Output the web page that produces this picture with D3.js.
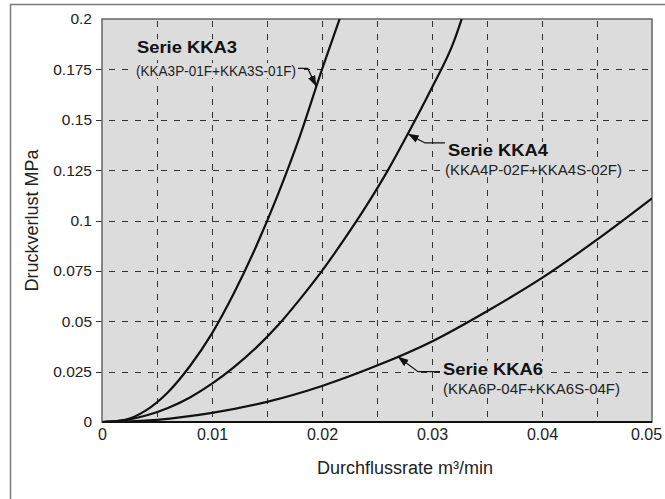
<!DOCTYPE html>
<html><head><meta charset="utf-8">
<script src="https://cdn.jsdelivr.net/npm/d3@7"></script>
<style>
body{margin:0;background:#fff;}
svg{display:block;font-family:"Liberation Sans",Arial,Helvetica,sans-serif;}
</style>
</head><body>
<svg id="chart" width="665" height="499"></svg>
<script>
// ---- data ----
const kka3Q = [0, 0.002, 0.004, 0.006, 0.008, 0.010, 0.012, 0.014, 0.016, 0.018, 0.020, 0.0216];
const kka3P = [0, 0.001, 0.0058, 0.0148, 0.0278, 0.0440, 0.064, 0.087, 0.113, 0.142, 0.175, 0.2];
const kka4Q = [0, 0.002, 0.004, 0.006, 0.008, 0.010, 0.012, 0.014, 0.016, 0.018, 0.020, 0.022, 0.024, 0.026, 0.028, 0.030, 0.032, 0.0327];
const kka4P = [0, 0.0008, 0.0032, 0.0070, 0.0122, 0.0190, 0.0272, 0.0368, 0.048, 0.061, 0.075, 0.0905, 0.107, 0.125, 0.145, 0.166, 0.189, 0.2];
const kka6Q = [0, 0.002, 0.005, 0.010, 0.015, 0.020, 0.025, 0.030, 0.035, 0.040, 0.045, 0.050];
const kka6P = [0, 0.0002, 0.0011, 0.0045, 0.010, 0.0179, 0.028, 0.040, 0.055, 0.0715, 0.0905, 0.111];

const xTickValues = [0, 0.01, 0.02, 0.03, 0.04, 0.05];
const xTickLabels = ["0", "0.01", "0.02", "0.03", "0.04", "0.05"];
const yTickValues = [0, 0.025, 0.05, 0.075, 0.1, 0.125, 0.15, 0.175, 0.2];
const yTickLabels = ["0", "0.025", "0.05", "0.075", "0.1", "0.125", "0.15", "0.175", "0.2"];
const xGridValues = [0.005, 0.01, 0.015, 0.02, 0.025, 0.03, 0.035, 0.04, 0.045];
const yGridValues = [0.025, 0.05, 0.075, 0.1, 0.125, 0.15, 0.175];

const seriesNames = ["Serie KKA3", "Serie KKA4", "Serie KKA6"];
const partNames = ["(KKA3P-01F+KKA3S-01F)", "(KKA4P-02F+KKA4S-02F)", "(KKA6P-04F+KKA6S-04F)"];
const xTitle = "Durchflussrate m³/min";
const yTitle = "Druckverlust MPa";

// ---- layout ----
const svg = d3.select("#chart");
const W = 665, H = 499;
const x = d3.scaleLinear().domain([0, 0.05]).range([102, 652]);
const y = d3.scaleLinear().domain([0, 0.2]).range([422, 19]);
const BG = "#dcdcdc";

// outer frame (left + top lines)
svg.append("path").attr("d", `M10.5,${H} V4.5 H${W}`).attr("fill", "none").attr("stroke", "#7a7a7a").attr("stroke-width", 1.5);

// plot background
svg.append("rect").attr("x", x(0)).attr("y", y(0.2)).attr("width", x(0.05) - x(0)).attr("height", y(0) - y(0.2))
  .attr("fill", BG);

const defs = svg.append("defs");
defs.append("clipPath").attr("id", "clip").append("rect")
  .attr("x", x(0)).attr("y", y(0.2)).attr("width", x(0.05) - x(0)).attr("height", y(0) - y(0.2));

// grid
const grid = svg.append("g").attr("stroke", "#333").attr("stroke-width", 1).attr("stroke-dasharray", "6,7");
grid.selectAll(".vg").data(xGridValues).join("line")
  .attr("x1", d => Math.round(x(d)) + 0.5).attr("x2", d => Math.round(x(d)) + 0.5)
  .attr("y1", y(0.2) + 2).attr("y2", y(0));
grid.selectAll(".hg").data(yGridValues).join("line")
  .attr("y1", d => Math.round(y(d)) + 0.5).attr("y2", d => Math.round(y(d)) + 0.5)
  .attr("x1", x(0) - 6).attr("x2", x(0.05));

// plot border
svg.append("rect").attr("x", x(0)).attr("y", y(0.2)).attr("width", x(0.05) - x(0)).attr("height", y(0) - y(0.2))
  .attr("fill", "none").attr("stroke", "#666").attr("stroke-width", 1.5);
svg.append("line").attr("x1", x(0)).attr("x2", x(0.05)).attr("y1", y(0)).attr("y2", y(0))
  .attr("stroke", "#111").attr("stroke-width", 2);

// axes
const xAxis = d3.axisBottom(x).tickValues(xTickValues).tickSize(0).tickPadding(7)
  .tickFormat((d, i) => xTickLabels[i]);
const gx = svg.append("g").attr("transform", `translate(0,${y(0)})`).call(xAxis);
gx.select(".domain").remove();
gx.selectAll("text").attr("font-size", 16).attr("fill", "#222").attr("font-family", "Liberation Sans, Arial, sans-serif")
  .attr("dx", (d, i) => i === xTickValues.length - 1 ? -6 : 0);

const yAxis = d3.axisLeft(y).tickValues(yTickValues).tickSize(0).tickPadding(10)
  .tickFormat((d, i) => yTickLabels[i]);
const gy = svg.append("g").attr("transform", `translate(${x(0)},0)`).call(yAxis);
gy.select(".domain").remove();
gy.selectAll("text").attr("font-size", 15.5).attr("fill", "#222").attr("font-family", "Liberation Sans, Arial, sans-serif");

svg.append("text").attr("x", 405).attr("y", 474).attr("text-anchor", "middle")
  .attr("font-size", 18).attr("fill", "#222").text(xTitle);
svg.append("text").attr("transform", `translate(38,${(y(0) + y(0.2)) / 2}) rotate(-90)`).attr("text-anchor", "middle")
  .attr("font-size", 18).attr("fill", "#222").text(yTitle);

// curves
const series = [
  {Q: kka3Q, P: kka3P},
  {Q: kka4Q, P: kka4P},
  {Q: kka6Q, P: kka6P}
];
const line = d3.line().x(d => x(d[0])).y(d => y(d[1])).curve(d3.curveMonotoneX);
const curves = svg.append("g").attr("clip-path", "url(#clip)");
series.forEach(s => {
  curves.append("path").datum(s.Q.map((q, i) => [q, s.P[i]]))
    .attr("d", line).attr("fill", "none").attr("stroke", "#111").attr("stroke-width", 2.2);
});

// annotations (in data units)
const annots = [
  {nameQ: 0.00318, nameP: 0.1830, partQ: 0.00309, partP: 0.1717, partLen: 160, leadP: 0.1755, elbowQ: 0.0187, tipP: 0.1665, side: "right"},
  {nameQ: 0.03145, nameP: 0.1320, partQ: 0.03118, partP: 0.1225, partLen: 177, leadP: 0.1385, elbowQ: 0.02936, tipP: 0.1430, side: "left"},
  {nameQ: 0.03100, nameP: 0.0235, partQ: 0.03100, partP: 0.0140, partLen: 177, leadP: 0.0250, elbowQ: 0.02873, tipP: 0.0325, side: "left"}
];

defs.append("marker").attr("id", "arr").attr("viewBox", "0 0 10 10").attr("refX", 10).attr("refY", 5)
  .attr("markerWidth", 11).attr("markerHeight", 11).attr("markerUnits", "userSpaceOnUse").attr("orient", "auto")
  .append("path").attr("d", "M0,1.5 L10,5 L0,8.5 Z").attr("fill", "#111");

const annG = svg.append("g");
annots.forEach((a, i) => {
  const s = series[i];
  const inv = d3.scaleLinear().domain(s.P).range(s.Q);
  const tipQ = inv(a.tipP);

  const nameT = annG.append("text").attr("x", x(a.nameQ)).attr("y", y(a.nameP))
    .attr("font-size", 17).attr("font-weight", "bold").attr("fill", "#111")
    .attr("textLength", 100).attr("lengthAdjust", "spacingAndGlyphs").text(seriesNames[i]);
  const partT = annG.append("text").attr("x", x(a.partQ)).attr("y", y(a.partP))
    .attr("font-size", 15).attr("fill", "#222")
    .attr("textLength", a.partLen).attr("lengthAdjust", "spacingAndGlyphs").text(partNames[i]);
  [nameT, partT].forEach(t => {
    const b = t.node().getBBox();
    annG.insert("rect", "text").attr("x", b.x - 2).attr("y", b.y + 1).attr("width", b.width + 4).attr("height", b.height - 2)
      .attr("fill", BG);
  });
  let startX;
  if (a.side === "right") {
    const b = partT.node().getBBox();
    startX = b.x + b.width + 2;
  } else {
    const b = nameT.node().getBBox();
    startX = b.x - 3;
  }
  annG.append("path")
    .attr("d", `M${startX},${y(a.leadP)} L${x(a.elbowQ)},${y(a.leadP)} L${x(tipQ)},${y(a.tipP)}`)
    .attr("fill", "none").attr("stroke", "#111").attr("stroke-width", 1.2).attr("marker-end", "url(#arr)");
});
</script>
</body></html>
